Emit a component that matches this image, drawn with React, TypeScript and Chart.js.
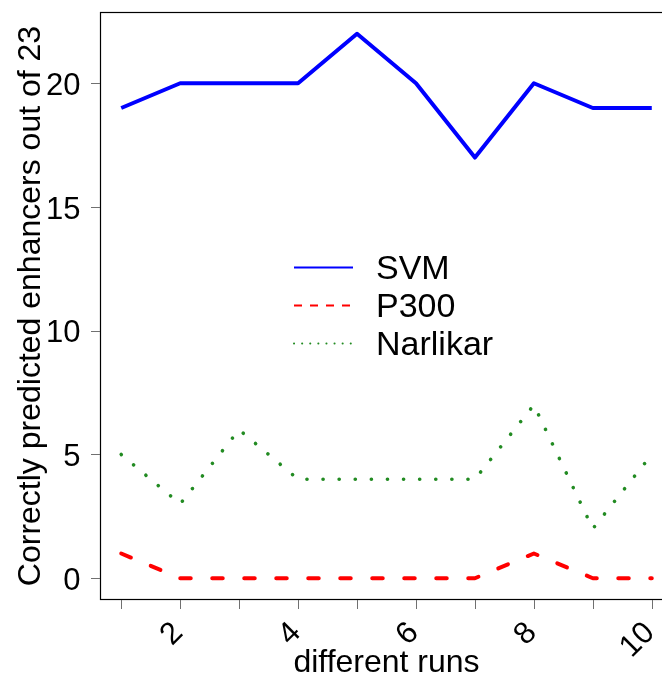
import React, { useEffect, useRef } from "react";
import { Chart, registerables } from "chart.js";
Chart.register(...registerables);

const runs = [1, 2, 3, 4, 5, 6, 7, 8, 9, 10];
const svm = [19, 20, 20, 20, 22, 20, 17, 20, 19, 19];
const p300 = [1, 0, 0, 0, 0, 0, 0, 1, 0, 0];
const narlikar = [5, 3, 6, 4, 4, 4, 4, 7, 2, 5];
const seriesNames = ["SVM", "P300", "Narlikar"];
const yTicks = [0, 5, 10, 15, 20];
const xTickLabels = [2, 4, 6, 8, 10];
const xTitle = "different runs";
const yTitle = "Correctly predicted enhancers out of 23";

const FONT = '"Liberation Sans", Arial, Helvetica, sans-serif';

const decor = {
  id: "rdecor",
  afterDraw(chart: any) {
    const ctx = chart.ctx;
    const xs = chart.scales.x;
    const ys = chart.scales.y;
    const { left, top, right, bottom } = chart.chartArea;
    ctx.save();
    // box
    ctx.strokeStyle = "#000";
    ctx.lineWidth = 1.2;
    ctx.strokeRect(left + 0.5, top + 0.5, right - left, bottom - top - 1);
    // ticks
    ctx.strokeStyle = "#707070";
    ctx.lineWidth = 1;
    ctx.beginPath();
    for (const v of yTicks) {
      const py = Math.round(ys.getPixelForValue(v)) + 0.5;
      ctx.moveTo(left - 9, py);
      ctx.lineTo(left, py);
    }
    for (const v of runs) {
      const px = Math.round(xs.getPixelForValue(v)) + 0.5;
      ctx.moveTo(px, bottom);
      ctx.lineTo(px, bottom + 9);
    }
    ctx.stroke();
    // y tick labels
    ctx.fillStyle = "#000";
    ctx.font = `31px ${FONT}`;
    ctx.textAlign = "right";
    ctx.textBaseline = "alphabetic";
    for (const v of yTicks) {
      const py = ys.getPixelForValue(v);
      ctx.fillText(String(v), left - 19.5, py + 11.5);
    }
    // x tick labels (rotated 45)
    for (const v of xTickLabels) {
      const px = xs.getPixelForValue(v);
      ctx.save();
      ctx.translate(px - 2, bottom + 28);
      ctx.rotate(-Math.PI / 4);
      ctx.textAlign = "right";
      ctx.textBaseline = "middle";
      ctx.fillText(String(v), 0, 0);
      ctx.restore();
    }
    // axis titles
    ctx.font = `32px ${FONT}`;
    ctx.textAlign = "center";
    ctx.textBaseline = "alphabetic";
    ctx.fillText(xTitle, (left + right) / 2, 672);
    ctx.save();
    ctx.translate(40, (top + bottom) / 2);
    ctx.rotate(-Math.PI / 2);
    ctx.fillText(yTitle, 0, 0);
    ctx.restore();
    // legend
    const lx0 = 294;
    const lx1 = 353;
    const rows = [279, 317, 355];
    chart.data.datasets.forEach((ds: any, i: number) => {
      const base = rows[i];
      const ly = base - 11.5;
      ctx.save();
      ctx.strokeStyle = ds.borderColor;
      ctx.lineWidth = 2;
      if (i === 1) {
        ctx.setLineDash([8, 8]);
        ctx.lineCap = "butt";
      } else if (i === 2) {
        ctx.setLineDash([0.1, 8]);
        ctx.lineCap = "round";
      }
      ctx.beginPath();
      ctx.moveTo(lx0, ly);
      ctx.lineTo(lx1, ly);
      ctx.stroke();
      ctx.restore();
      ctx.fillStyle = "#000";
      ctx.font = `34px ${FONT}`;
      ctx.textAlign = "left";
      ctx.textBaseline = "alphabetic";
      ctx.fillText(ds.label, 376, base);
    });
    ctx.restore();
  },
};

export default function App() {
  const ref = useRef<HTMLCanvasElement>(null);
  useEffect(() => {
    if (!ref.current) return;
    const toPts = (arr: number[]) => runs.map((r, i) => ({ x: r, y: arr[i] }));
    const chart = new Chart(ref.current, {
      type: "line",
      data: {
        datasets: [
          {
            label: seriesNames[0],
            data: toPts(svm),
            borderColor: "rgb(0,0,255)",
            borderWidth: 4,
            pointRadius: 0,
            tension: 0,
            borderJoinStyle: "round",
            borderCapStyle: "butt",
          },
          {
            label: seriesNames[1],
            data: toPts(p300),
            borderColor: "rgb(255,0,0)",
            borderWidth: 4,
            borderDash: [10.5, 21.5],
            borderCapStyle: "round",
            borderJoinStyle: "round",
            pointRadius: 0,
            tension: 0,
          },
          {
            label: seriesNames[2],
            data: toPts(narlikar),
            borderColor: "rgb(34,139,34)",
            borderWidth: 3.6,
            borderDash: [0.1, 16],
            borderCapStyle: "round",
            borderJoinStyle: "round",
            pointRadius: 0,
            tension: 0,
          },
        ],
      },
      options: {
        animation: false,
        responsive: false,
        devicePixelRatio: 1,
        layout: { padding: { left: 100, top: 12, right: 17, bottom: 75 } },
        plugins: { legend: { display: false }, tooltip: { enabled: false } },
        scales: {
          x: { type: "linear", min: 0.64, max: 10.36, display: false },
          y: { type: "linear", min: -0.88, max: 22.88, display: false },
        },
      },
      plugins: [decor],
    });
    return () => chart.destroy();
  }, []);
  return (
    <div
      style={{
        position: "fixed",
        left: 0,
        top: 0,
        width: 662,
        height: 675,
        overflow: "hidden",
        background: "#fff",
      }}
    >
      <canvas ref={ref} width={690} height={675} style={{ display: "block" }} />
    </div>
  );
}
